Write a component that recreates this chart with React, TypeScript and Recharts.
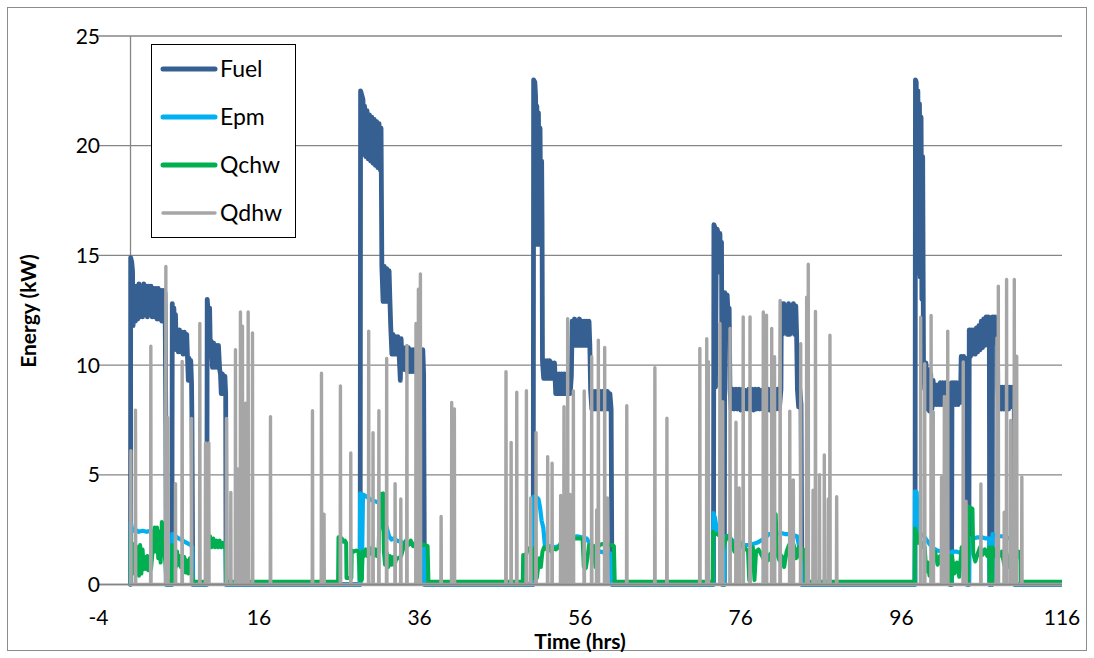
import React from 'react';
import { LineChart, Line, XAxis, YAxis, CartesianGrid, ReferenceLine, Legend, Label } from 'recharts';

// Axis ticks
const timeTicks = [-4, 16, 36, 56, 76, 96, 116];
const energyTicks = [0, 5, 10, 15, 20, 25];

// Series names and colours
const seriesNames = ['Fuel', 'Epm', 'Qchw', 'Qdhw'];
const seriesColors = ['#376092', '#00B0F0', '#00B050', '#A6A6A6'];

// Fuel input [hour, kW]
const fuel: number[][] = [
  [0, 0], [0.02, 14.9], [0.15, 14.7], [0.25, 14.3], [0.32, 11.8], [0.45, 13.6], [0.6, 12.0], [0.75, 13.6], [0.9, 12.1], [1.05, 13.7], [1.2, 12.2], [1.35, 13.6], [1.5, 12.2], [1.65, 13.7], [1.8, 12.3], [1.95, 13.6], [2.1, 12.2], [2.25, 13.6], [2.4, 12.3], [2.55, 13.6], [2.7, 12.2], [2.85, 13.5], [3.0, 12.2], [3.15, 13.5], [3.3, 12.1], [3.45, 13.5], [3.6, 12.1], [3.75, 13.4], [3.9, 12.0], [4.05, 13.4], [4.2, 12.0], [4.3, 13.3], [4.4, 7.3], [4.45, 0],
  [5.15, 0], [5.2, 12.8], [5.3, 11.2], [5.4, 12.6], [5.5, 10.8], [5.6, 12.3], [5.7, 10.7], [5.8, 11.6], [5.95, 10.6], [6.1, 11.6], [6.25, 10.6], [6.4, 11.5], [6.55, 10.5], [6.7, 11.5], [6.85, 10.5], [7.0, 11.4], [7.1, 10.3], [7.2, 9.3], [7.3, 10.3], [7.4, 9.3], [7.5, 10.2], [7.6, 9.2], [7.65, 7.5], [7.75, 0],
  [9.5, 0], [9.55, 13.0], [9.65, 12.5], [9.75, 11.0], [9.85, 12.6], [9.95, 10.4], [10.05, 11.1], [10.2, 9.9], [10.35, 11.0], [10.5, 9.9], [10.65, 10.9], [10.8, 9.9], [10.95, 10.9], [11.1, 9.8], [11.2, 9.6], [11.3, 8.7], [11.45, 9.6], [11.6, 8.7], [11.75, 9.5], [11.85, 8.7], [11.9, 0],
  [28.6, 0], [28.65, 22.5], [28.8, 22.3], [28.95, 22.1], [29.05, 19.6], [29.15, 21.8], [29.3, 19.5], [29.45, 21.6], [29.6, 19.4], [29.75, 21.4], [29.9, 19.3], [30.05, 21.3], [30.2, 19.2], [30.35, 21.2], [30.5, 19.1], [30.65, 21.1], [30.8, 19.0], [30.95, 21.0], [31.1, 18.9], [31.2, 20.8], [31.3, 14.5], [31.45, 12.9], [31.6, 14.5], [31.75, 12.9], [31.9, 14.4], [32.05, 12.9], [32.2, 14.3], [32.3, 13.0], [32.4, 11.8], [32.55, 10.5], [32.7, 11.4], [32.85, 10.5], [33.0, 11.3], [33.15, 10.5], [33.3, 11.3], [33.45, 10.5], [33.6, 9.3], [33.7, 11.2], [33.85, 9.8], [34.0, 10.8], [34.15, 9.8], [34.3, 10.8], [34.45, 9.7], [34.6, 10.8], [34.75, 9.7], [34.9, 10.7], [35.05, 9.7], [35.2, 10.7], [35.35, 9.7], [35.5, 10.7], [35.65, 9.7], [35.8, 10.7], [35.95, 9.7], [36.1, 10.7], [36.25, 9.7], [36.4, 10.7], [36.5, 9.6], [36.6, 0],
  [50.15, 0], [50.2, 23.0], [50.35, 22.9], [50.45, 22.2], [50.5, 16.8], [50.6, 21.8], [50.7, 15.5], [50.8, 21.5], [50.9, 16.6], [51.0, 20.8], [51.1, 15.5], [51.2, 19.3], [51.25, 16.5], [51.3, 10.2], [51.45, 9.4], [51.6, 10.2], [51.75, 9.4], [51.9, 10.2], [52.05, 9.4], [52.2, 10.2], [52.35, 9.4], [52.5, 10.1], [52.65, 9.4], [52.8, 10.1], [52.95, 8.7], [53.1, 9.6], [53.25, 8.7], [53.4, 9.6], [53.55, 8.7], [53.7, 9.6], [53.85, 8.7], [54.0, 9.6], [54.15, 8.7], [54.3, 9.6], [54.45, 8.7], [54.6, 9.6], [54.75, 8.7], [54.9, 9.5], [55.0, 12.0], [55.15, 10.9], [55.3, 12.1], [55.45, 10.9], [55.6, 12.0], [55.75, 10.9], [55.9, 12.1], [56.05, 10.9], [56.2, 12.0], [56.35, 10.9], [56.5, 12.0], [56.65, 10.9], [56.8, 12.0], [56.95, 10.9], [57.1, 12.0], [57.2, 10.9], [57.3, 8.85], [57.45, 8.0], [57.6, 8.8], [57.75, 8.0], [57.9, 8.8], [58.05, 8.0], [58.2, 8.8], [58.35, 8.0], [58.5, 8.8], [58.65, 8.0], [58.8, 8.8], [58.95, 8.0], [59.1, 8.8], [59.25, 8.0], [59.4, 8.8], [59.55, 8.0], [59.7, 8.7], [59.85, 8.0], [59.95, 0],
  [72.6, 0], [72.65, 16.4], [72.75, 16.3], [72.85, 9.0], [72.95, 15.8], [73.05, 16.2], [73.2, 16.0], [73.3, 14.5], [73.4, 16.0], [73.5, 14.2], [73.6, 15.6], [73.7, 0], [73.95, 0], [74.0, 13.3], [74.15, 12.2], [74.3, 13.2], [74.45, 12.1], [74.55, 12.6], [74.65, 8.9], [74.8, 8.0], [75.0, 8.9], [75.2, 8.0], [75.4, 8.9], [75.6, 8.0], [75.8, 8.9], [76.0, 7.95], [76.2, 8.9], [76.4, 8.0], [76.6, 8.85], [76.8, 8.0], [77.0, 8.9], [77.2, 8.0], [77.4, 8.9], [77.6, 7.95], [77.8, 8.9], [78.0, 8.0], [78.2, 8.9], [78.4, 8.0], [78.6, 8.85], [78.8, 8.0], [79.0, 8.9], [79.2, 8.0], [79.4, 8.9], [79.6, 7.95], [79.8, 8.9], [80.0, 8.0], [80.2, 8.9], [80.4, 8.0], [80.6, 8.9], [80.8, 8.0], [81.0, 8.9], [81.05, 12.8], [81.2, 11.4], [81.35, 12.8], [81.5, 11.5], [81.65, 12.7], [81.8, 11.4], [81.95, 12.8], [82.1, 11.4], [82.25, 12.7], [82.4, 11.5], [82.55, 12.8], [82.7, 11.4], [82.85, 12.7], [82.95, 11.4], [83.05, 8.9], [83.2, 8.1], [83.35, 8.9], [83.5, 8.2], [83.6, 0],
  [97.7, 0], [97.75, 23.0], [97.85, 22.9], [97.95, 14.2], [98.05, 22.5], [98.15, 14.5], [98.25, 21.9], [98.35, 14.0], [98.45, 21.3], [98.55, 13.0], [98.65, 19.5], [98.75, 10.2], [98.9, 8.9], [99.05, 10.1], [99.2, 8.0], [99.35, 9.8], [99.5, 7.9], [99.65, 9.6], [99.8, 8.0], [99.95, 9.3], [100.1, 8.2], [100.25, 9.1], [100.4, 8.2], [100.55, 9.1], [100.7, 8.2], [100.85, 9.2], [101.0, 8.2], [101.15, 9.2], [101.3, 8.2], [101.45, 9.2], [101.6, 8.2], [101.75, 9.2], [101.9, 8.2], [102.0, 9.1], [102.05, 0], [102.25, 0], [102.3, 9.2], [102.45, 8.2], [102.6, 9.2], [102.75, 8.2], [102.9, 9.2], [103.05, 8.2], [103.2, 9.1], [103.35, 8.3], [103.45, 10.4], [103.6, 8.3], [103.75, 10.4], [103.9, 8.3], [104.05, 10.3], [104.15, 8.5], [104.2, 0], [104.4, 0], [104.45, 11.6], [104.6, 10.4], [104.75, 11.6], [104.9, 10.5], [105.05, 11.6], [105.2, 10.5], [105.35, 11.7], [105.5, 10.6], [105.65, 11.8], [105.8, 10.7], [105.95, 12.0], [106.1, 10.8], [106.25, 12.1], [106.4, 10.9], [106.55, 12.2], [106.7, 11.0], [106.85, 12.2], [106.95, 11.0], [107.0, 0], [107.3, 0], [107.35, 12.2], [107.5, 11.0], [107.65, 12.2], [107.8, 11.1], [107.95, 12.1], [108.0, 9.0], [108.15, 8.0], [108.3, 9.0], [108.45, 8.0], [108.6, 9.0], [108.75, 8.0], [108.9, 9.0], [109.05, 8.0], [109.2, 9.0], [109.35, 8.0], [109.5, 9.0], [109.65, 8.1], [109.8, 9.0], [109.95, 8.1], [110.05, 8.9], [110.1, 0],
  [116, 0],
];

// Electrical output [hour, kW]
const epm: number[][] = [
  [0, 0], [0.02, 2.85], [0.15, 2.6], [0.3, 2.45], [0.6, 2.5], [1.0, 2.4], [1.5, 2.45], [2.0, 2.4], [2.5, 2.45], [3.0, 2.4], [3.5, 2.35], [4.0, 2.3], [4.4, 2.2], [4.45, 0],
  [5.15, 0], [5.2, 2.3], [5.6, 2.2], [6.0, 2.1], [6.5, 2.0], [7.0, 1.9], [7.5, 1.8], [7.7, 1.7], [7.75, 0],
  [9.5, 0], [9.55, 2.0], [10.0, 1.95], [10.5, 1.9], [11.0, 1.9], [11.5, 1.85], [11.85, 1.8], [11.9, 0],
  [28.55, 0], [28.6, 4.15], [28.7, 4.1], [28.8, 0.3], [28.95, 4.1], [29.2, 4.05], [29.6, 3.95], [30.0, 3.85], [30.4, 3.8], [30.8, 3.75], [31.2, 3.7], [31.35, 2.7], [31.6, 2.4], [31.9, 2.6], [32.2, 2.2], [32.5, 2.05], [32.8, 2.1], [33.2, 2.0], [33.6, 1.95], [34.0, 1.9], [34.5, 1.85], [35.0, 1.85], [35.5, 1.8], [36.0, 1.8], [36.55, 1.75], [36.6, 0],
  [50.1, 0], [50.15, 4.0], [50.5, 4.0], [50.8, 3.9], [51.0, 3.5], [51.2, 2.9], [51.4, 2.6], [51.6, 1.8], [52.2, 1.75], [52.8, 1.7], [53.4, 1.75], [54.0, 1.8], [54.6, 1.9], [55.0, 2.15], [55.6, 2.2], [56.2, 2.15], [56.8, 2.1], [57.3, 1.8], [57.9, 1.6], [58.5, 1.5], [59.1, 1.45], [59.9, 1.4], [59.95, 0],
  [72.55, 0], [72.6, 3.25], [72.8, 3.0], [73.0, 2.5], [73.2, 2.3], [73.5, 2.2], [73.7, 0], [73.95, 0], [74.0, 2.2], [74.5, 2.1], [75.0, 2.0], [75.5, 1.9], [76.0, 1.85], [76.5, 1.8], [77.0, 1.8], [77.5, 1.85], [78.0, 1.9], [78.5, 2.0], [79.0, 2.1], [79.5, 2.3], [80.0, 2.3], [80.5, 2.3], [81.0, 2.35], [81.5, 2.3], [82.0, 2.3], [82.5, 2.25], [83.0, 2.2], [83.3, 1.7], [83.55, 1.6], [83.6, 0],
  [97.65, 0], [97.7, 4.25], [97.9, 4.2], [98.05, 2.4], [98.4, 2.3], [98.8, 2.2], [99.2, 2.0], [99.6, 1.8], [100.0, 1.65], [100.5, 1.55], [101.0, 1.5], [101.5, 1.5], [102.0, 1.45], [102.05, 0], [102.25, 0], [102.3, 1.5], [102.8, 1.5], [103.3, 1.45], [103.8, 1.5], [104.15, 1.5], [104.2, 0], [104.4, 0], [104.45, 2.1], [105.0, 2.1], [105.5, 2.15], [106.0, 2.15], [106.5, 2.1], [106.95, 2.1], [107.0, 0], [107.3, 0], [107.35, 2.3], [107.8, 2.25], [108.2, 2.2], [108.6, 2.2], [109.0, 2.15], [109.5, 2.1], [110.0, 2.0], [110.1, 0],
  [116, 0],
];

// Chilled-water heat [hour, kW]
const qchw: number[][] = [
  [0, 0.12], [0.02, 2.3], [0.15, 1.0], [0.3, 1.85], [0.45, 0.5], [0.6, 1.8], [0.75, 0.6], [0.9, 1.7], [1.05, 0.4], [1.2, 1.8], [1.35, 0.5], [1.5, 1.6], [1.65, 0.7], [1.8, 1.25], [1.95, 0.7], [2.1, 1.3], [2.25, 0.65], [2.4, 1.2], [2.55, 0.7], [2.7, 1.3], [2.85, 2.0], [3.0, 2.6], [3.15, 1.5], [3.3, 2.6], [3.45, 1.2], [3.6, 2.4], [3.75, 1.0], [3.9, 2.85], [4.05, 2.6], [4.2, 1.5], [4.35, 1.0], [4.45, 0.12],
  [5.15, 0.12], [5.2, 1.8], [5.35, 0.9], [5.5, 1.7], [5.65, 0.8], [5.8, 1.5], [5.95, 0.9], [6.1, 1.3], [6.25, 0.8], [6.4, 1.2], [6.55, 0.7], [6.7, 1.25], [6.85, 0.55], [7.0, 1.1], [7.2, 0.5], [7.4, 1.2], [7.6, 0.6], [7.75, 0.12],
  [9.5, 0.12], [9.55, 2.2], [9.7, 1.7], [9.9, 2.2], [10.1, 1.7], [10.3, 2.1], [10.5, 1.7], [10.7, 2.0], [10.9, 1.7], [11.1, 2.0], [11.3, 1.7], [11.5, 1.9], [11.7, 1.7], [11.85, 1.8], [11.9, 0.12],
  [25.85, 0.12], [25.9, 2.15], [26.1, 2.0], [26.3, 2.1], [26.5, 1.95], [26.7, 2.0], [26.85, 1.9], [26.9, 0.3], [27.5, 0.3], [27.55, 1.55], [27.8, 1.5], [28.1, 1.55], [28.4, 1.5], [28.55, 0.2], [28.8, 0.2], [28.9, 1.5], [29.1, 1.3], [29.3, 1.6], [29.5, 1.3], [29.7, 1.6], [29.9, 1.4], [30.1, 1.7], [30.3, 1.3], [30.5, 1.6], [30.7, 1.3], [30.9, 1.5], [31.05, 4.15], [31.3, 4.1], [31.45, 4.15], [31.55, 1.5], [31.7, 0.9], [31.9, 1.45], [32.1, 0.8], [32.3, 1.3], [32.5, 0.9], [32.7, 1.25], [32.9, 0.9], [33.1, 1.2], [33.4, 1.2], [33.7, 1.3], [34.0, 1.7], [34.3, 2.0], [34.6, 1.8], [34.9, 2.0], [35.2, 1.75], [35.5, 1.9], [35.8, 1.8], [36.1, 1.9], [36.4, 1.8], [36.7, 1.8], [37.0, 1.75], [37.1, 0.12],
  [48.85, 0.12], [48.9, 1.35], [49.1, 1.1], [49.3, 1.4], [49.5, 1.65], [49.8, 1.6], [50.05, 1.65], [50.15, 0.3], [50.6, 0.3], [50.9, 1.2], [51.1, 0.8], [51.3, 1.5], [51.5, 1.7], [51.8, 1.6], [52.1, 1.7], [52.4, 1.5], [52.7, 1.65], [53.0, 1.6], [53.3, 1.7], [53.6, 1.9], [54.0, 2.05], [54.4, 2.1], [54.8, 2.05], [55.2, 2.1], [55.6, 2.1], [56.0, 2.1], [56.3, 2.05], [56.45, 0.8], [56.7, 0.75], [56.9, 1.2], [57.1, 1.8], [57.4, 1.8], [57.7, 1.75], [57.9, 0.8], [58.1, 1.6], [58.4, 1.8], [58.8, 1.85], [59.2, 1.8], [59.6, 1.8], [60.0, 1.8], [60.2, 1.75], [60.3, 0.12],
  [72.5, 0.12], [72.55, 2.4], [72.8, 2.3], [73.1, 2.3], [73.4, 2.2], [73.7, 1.5], [74.0, 1.9], [74.3, 2.2], [74.6, 2.25], [74.9, 1.9], [75.2, 1.5], [75.5, 1.8], [75.8, 1.6], [76.1, 1.9], [76.4, 1.7], [76.7, 1.6], [76.9, 1.5], [77.05, 0.2], [77.2, 1.6], [77.5, 1.7], [77.7, 0.2], [77.9, 1.5], [78.2, 1.6], [78.5, 1.4], [78.8, 1.2], [79.1, 1.5], [79.4, 1.1], [79.7, 1.4], [80.0, 1.5], [80.15, 3.25], [80.35, 3.2], [80.5, 1.4], [80.8, 1.1], [81.1, 1.3], [81.4, 0.8], [81.7, 1.5], [82.0, 1.8], [82.3, 1.4], [82.6, 1.8], [82.9, 1.2], [83.2, 1.7], [83.5, 1.1], [83.8, 1.6], [84.0, 1.3], [84.1, 0.12],
  [97.65, 0.12], [97.7, 2.55], [97.9, 2.3], [98.1, 1.9], [98.3, 2.0], [98.5, 1.7], [98.7, 1.9], [98.9, 1.7], [99.1, 0.6], [99.3, 1.0], [99.5, 0.4], [99.7, 0.9], [99.9, 1.2], [100.2, 1.5], [100.5, 0.9], [100.8, 1.3], [101.1, 0.8], [101.4, 1.4], [101.7, 1.2], [102.0, 1.3], [102.05, 0.12], [102.25, 0.12], [102.3, 1.3], [102.6, 0.5], [102.9, 1.0], [103.2, 0.35], [103.5, 1.7], [103.8, 1.4], [104.15, 1.5], [104.2, 0.12], [104.3, 0.12], [104.35, 3.55], [104.6, 3.5], [104.85, 3.45], [104.95, 1.4], [105.2, 1.05], [105.5, 1.4], [105.8, 1.7], [106.1, 1.35], [106.4, 1.6], [106.7, 1.3], [106.95, 1.7], [107.0, 0.12], [107.3, 0.12], [107.35, 1.7], [107.6, 1.3], [107.9, 1.6], [108.2, 1.3], [108.5, 1.5], [108.8, 0.9], [109.1, 1.4], [109.4, 0.8], [109.7, 1.3], [110.0, 1.6], [110.3, 1.2], [110.6, 1.5], [110.85, 1.1], [110.9, 0.12],
  [116, 0.12],
];

// Domestic hot-water draws [hour, peak kW]; the series sits at 0 between draws
const qdhwDraws: number[][] = [
  [0.04, 6.1], [0.62, 7.95], [2.53, 10.86], [4.4, 14.5], [4.65, 7.6], [5.6, 4.6], [6.43, 10.17], [7.6, 7.57], [8.63, 11.9], [9.34, 6.45], [9.75, 6.45], [11.95, 7.57], [12.49, 4.2], [13.07, 10.7], [13.28, 5.28], [13.69, 12.42], [13.94, 11.77], [14.32, 8.26], [14.65, 12.42], [15.19, 11.47], [17.43, 7.65],
  [22.66, 7.92], [23.78, 9.63], [24.1, 3.2], [26.14, 9.05], [27.43, 6.0], [29.66, 11.54], [30.2, 6.92], [30.93, 7.92], [31.9, 10.3], [32.95, 4.6], [33.66, 3.9], [34.42, 10.9], [35.55, 11.9], [35.85, 13.46], [36.1, 14.15], [38.68, 3.1], [40.0, 8.3], [40.33, 8.0],
  [46.76, 9.7], [47.4, 6.48], [48.1, 8.76], [49.3, 8.83], [49.84, 3.94], [50.5, 6.92], [51.95, 5.83], [52.5, 5.53], [53.57, 4.06], [53.98, 8.1], [54.44, 12.12], [54.73, 4.1], [55.15, 8.82], [56.5, 8.82], [57.43, 10.38], [58.05, 3.4], [58.26, 11.14], [59.05, 10.8], [59.4, 3.94], [61.8, 8.15], [65.3, 9.88], [66.8, 7.58],
  [70.9, 10.76], [71.76, 11.2], [71.96, 10.15], [73.4, 11.9], [73.75, 8.33], [74.66, 11.67], [75.4, 7.4], [75.8, 4.4], [76.3, 12.2], [77.15, 12.2], [78.8, 12.42], [79.2, 12.27], [79.85, 11.67], [80.2, 10.38], [80.9, 12.95], [82.1, 7.9], [82.54, 4.77], [83.46, 10.98], [84.2, 13.1], [84.4, 14.6], [85.0, 4.3], [85.3, 12.45], [85.8, 5.0], [86.4, 5.9], [86.9, 3.9], [87.1, 11.36], [87.94, 4.0],
  [98.4, 12.18], [98.9, 10.06], [99.7, 12.26], [99.97, 7.87], [101.0, 4.9], [101.35, 8.57], [101.77, 11.55], [103.7, 10.14], [104.05, 3.8], [105.9, 4.58], [107.9, 11.24], [108.07, 13.6], [108.8, 3.3], [109.1, 13.9], [109.6, 7.48], [110.06, 13.9], [110.36, 10.4], [111.0, 4.9],
];

type Pt = { t: number; v: number };
const toPoints = (pairs: number[][]): Pt[] => pairs.map(([t, v]) => ({ t, v }));

// Each draw becomes a narrow up-and-down excursion from the zero baseline
const drawsToPoints = (draws: number[][], end: number): Pt[] => {
  const pts: Pt[] = [{ t: 0, v: 0 }];
  draws.forEach(([t, h]) => {
    pts.push({ t: t - 0.03, v: 0 }, { t, v: h }, { t: t + 0.03, v: 0 });
  });
  pts.push({ t: end, v: 0 });
  return pts;
};

const fuelPts = toPoints(fuel);
const epmPts = toPoints(epm);
const qchwPts = toPoints(qchw);
const qdhwPts = drawsToPoints(qdhwDraws, 116);

const FONT = 'Lato, "DejaVu Sans", sans-serif';
const AXIS_GREY = '#868686';

const TimeTick = (props: any) => (
  <text x={props.x} y={625} textAnchor="middle" fontSize={21} fontFamily={FONT} fill="#000">
    {props.payload.value}
  </text>
);

const EnergyTick = (props: any) => (
  <text x={100} y={props.y + 7.5} textAnchor="end" fontSize={21} fontFamily={FONT} fill="#000">
    {props.payload.value}
  </text>
);

const TimeTitle = () => (
  <text x={580} y={649} textAnchor="middle" fontSize={21} fontWeight="bold" fontFamily={FONT} fill="#000">
    Time (hrs)
  </text>
);

const EnergyTitle = () => (
  <text x={36} y={311} transform="rotate(-90 36 311)" textAnchor="middle" fontSize={21} fontWeight="bold" fontFamily={FONT} fill="#000">
    Energy (kW)
  </text>
);

const legendWidths = [5, 5, 5, 3.4];

const LegendBox = () => (
  <div style={{ width: 145, height: 194, border: '1.4px solid #000', background: '#fff', boxSizing: 'border-box', position: 'relative' }}>
    <svg width={143} height={192} style={{ position: 'absolute', left: 0, top: 0 }}>
      {seriesNames.map((name, i) => (
        <g key={name}>
          <line x1={11} x2={63} y1={24 + 48 * i} y2={24 + 48 * i} stroke={seriesColors[i]} strokeWidth={legendWidths[i]} strokeLinecap="round" />
          <text x={68} y={32 + 48 * i} fontSize={23} fontFamily={FONT} fill="#000">{name}</text>
        </g>
      ))}
    </svg>
  </div>
);

export default function App() {
  return (
    <div style={{ position: 'absolute', left: 0, top: 0, width: 1094, height: 658, background: '#fff', overflow: 'hidden' }}>
      <div style={{ position: 'absolute', left: 7, top: 7, width: 1080, height: 644, border: '1px solid #8c8c8c', boxSizing: 'border-box' }} />
      <div style={{ position: 'absolute', left: 0, top: 0 }}>
        <LineChart width={1094} height={658} margin={{ top: 36, right: 32, bottom: 33.5, left: 38.4 }}>
          <CartesianGrid horizontal vertical={false} stroke={AXIS_GREY} strokeWidth={1.3} />
          <ReferenceLine x={0} stroke={AXIS_GREY} strokeWidth={1.3} />
          <XAxis
            dataKey="t"
            type="number"
            domain={[-4, 116]}
            ticks={timeTicks}
            interval={0}
            allowDataOverflow
            height={40}
            axisLine={{ stroke: AXIS_GREY, strokeWidth: 1.3 }}
            tickLine={false}
            tick={<TimeTick />}
          >
            <Label content={<TimeTitle />} />
          </XAxis>
          <YAxis
            type="number"
            domain={[0, 25]}
            ticks={energyTicks}
            interval={0}
            width={60}
            axisLine={false}
            tickLine={false}
            tick={<EnergyTick />}
          >
            <Label content={<EnergyTitle />} />
          </YAxis>
          <Line data={fuelPts} dataKey="v" name={seriesNames[0]} type="linear" stroke={seriesColors[0]} strokeWidth={4.8} strokeLinejoin="round" strokeLinecap="round" dot={false} activeDot={false} isAnimationActive={false} />
          <Line data={epmPts} dataKey="v" name={seriesNames[1]} type="linear" stroke={seriesColors[1]} strokeWidth={4.2} strokeLinejoin="round" strokeLinecap="round" dot={false} activeDot={false} isAnimationActive={false} />
          <Line data={qchwPts} dataKey="v" name={seriesNames[2]} type="linear" stroke={seriesColors[2]} strokeWidth={4} strokeLinejoin="round" strokeLinecap="round" dot={false} activeDot={false} isAnimationActive={false} />
          <Line data={qdhwPts} dataKey="v" name={seriesNames[3]} type="linear" stroke={seriesColors[3]} strokeWidth={3.4} strokeLinejoin="round" strokeLinecap="round" dot={false} activeDot={false} isAnimationActive={false} />
          <Legend
            layout="horizontal"
            verticalAlign="middle"
            align="center"
            wrapperStyle={{ left: 151, top: 44, width: 145, height: 194 }}
            content={<LegendBox />}
          />
        </LineChart>
      </div>
    </div>
  );
}
